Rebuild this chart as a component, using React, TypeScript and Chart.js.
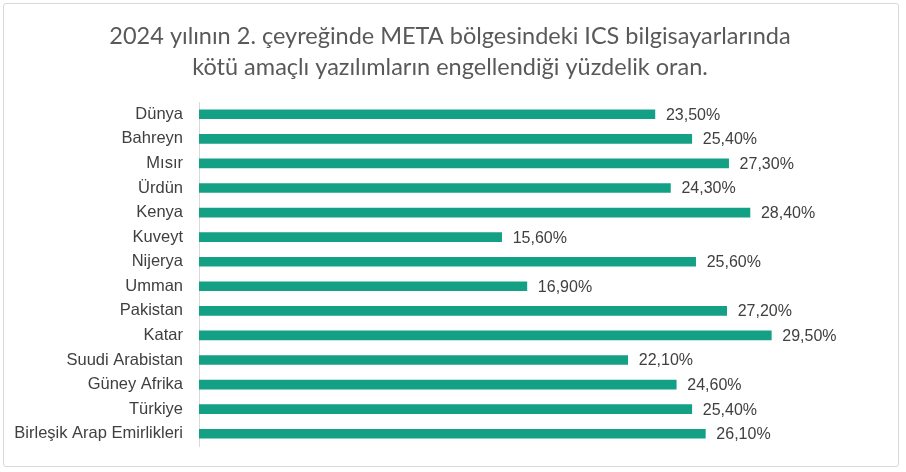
import React, { useEffect, useRef } from "react";
import { Chart, registerables } from "chart.js";

Chart.register(...registerables);

const categories: string[] = [
  "Dünya",
  "Bahreyn",
  "Mısır",
  "Ürdün",
  "Kenya",
  "Kuveyt",
  "Nijerya",
  "Umman",
  "Pakistan",
  "Katar",
  "Suudi Arabistan",
  "Güney Afrika",
  "Türkiye",
  "Birleşik Arap Emirlikleri",
];

const values: number[] = [23.5, 25.4, 27.3, 24.3, 28.4, 15.6, 25.6, 16.9, 27.2, 29.5, 22.1, 24.6, 25.4, 26.1];

const titleLines: string[] = [
  "2024 yılının 2. çeyreğinde META bölgesindeki ICS bilgisayarlarında",
  "kötü amaçlı yazılımların engellendiği yüzdelik oran.",
];

const xMin = 0;
const xMax = 35;

const formatPct = (v: number) => v.toFixed(2).replace(".", ",") + "%";

const dataLabelPlugin = {
  id: "dataLabels",
  afterDatasetsDraw(chart: any) {
    const ctx = chart.ctx;
    const meta = chart.getDatasetMeta(0);
    ctx.save();
    ctx.font = '16px "Liberation Sans", Arial, sans-serif';
    ctx.fillStyle = "#404040";
    ctx.textAlign = "left";
    ctx.textBaseline = "middle";
    meta.data.forEach((el: any, i: number) => {
      ctx.fillText(formatPct(values[i]), el.x + 11, el.y + 1);
    });
    ctx.restore();
  },
};

const titlePlugin = {
  id: "customTitle",
  afterDraw(chart: any) {
    const ctx = chart.ctx;
    ctx.save();
    ctx.font = '23.5px Lato, "Open Sans", sans-serif';
    ctx.fillStyle = "#595959";
    ctx.textAlign = "center";
    ctx.textBaseline = "middle";
    titleLines.forEach((line, i) => {
      ctx.fillText(line, 450, 36 + i * 31);
    });
    ctx.restore();
  },
};

export default function App() {
  const canvasRef = useRef<HTMLCanvasElement | null>(null);

  useEffect(() => {
    document.body.style.margin = "0";
    const canvas = canvasRef.current;
    if (!canvas) return;
    const chart = new Chart(canvas, {
      type: "bar",
      data: {
        labels: categories,
        datasets: [
          {
            data: values,
            backgroundColor: "#14a085",
            borderWidth: 0,
            barThickness: 9,
          },
        ],
      },
      options: {
        indexAxis: "y",
        animation: false,
        responsive: false,
        maintainAspectRatio: false,
        layout: { padding: { left: 0, right: 28, top: 102, bottom: 26 } },
        plugins: {
          legend: { display: false },
          tooltip: { enabled: false },
          title: { display: false },
        },
        scales: {
          x: {
            display: false,
            min: xMin,
            max: xMax,
          },
          y: {
            grid: { display: false, drawTicks: false },
            border: { display: true, color: "#d9d9d9", width: 1 },
            ticks: {
              color: "#404040",
              font: { family: "'Liberation Sans', Arial, sans-serif", size: 16.5 },
              padding: 16,
            },
            afterFit(scale: any) {
              scale.width = 199;
            },
          },
        },
      },
      plugins: [dataLabelPlugin, titlePlugin],
    });
    return () => chart.destroy();
  }, []);

  return (
    <div style={{ position: "relative", width: 906, height: 472, background: "#fff" }}>
      <div
        style={{
          position: "absolute",
          left: 3,
          top: 3,
          width: 896,
          height: 464,
          border: "1px solid #d9d9d9",
          borderRadius: 3,
          boxSizing: "border-box",
        }}
      />
      <canvas ref={canvasRef} width={906} height={472} style={{ position: "absolute", left: 0, top: 0 }} />
    </div>
  );
}
